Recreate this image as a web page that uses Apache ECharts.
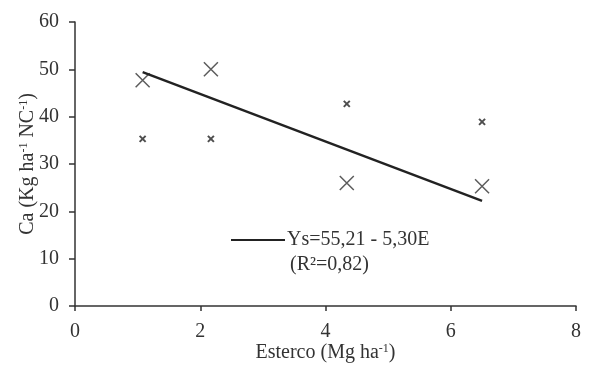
<!DOCTYPE html>
<html>
<head>
<meta charset="utf-8">
<script src="https://cdn.jsdelivr.net/npm/echarts@6/dist/echarts.min.js"></script>
<style>
html, body { margin: 0; padding: 0; background: #fff; }
#main { width: 604px; height: 365px; }
</style>
</head>
<body>
<div id="main"></div>
<script>
// dados
var bigX = [[1.08, 47.7], [2.17, 50.0], [4.34, 26.0], [6.5, 25.3]];
var smallX = [[1.08, 35.3], [2.17, 35.3], [4.34, 42.7], [6.5, 38.9]];
var trend = [[1.08, 49.4], [6.5, 22.2]];
var trendName = 'Ys=55,21 - 5,30E';
var r2Text = '(R²=0,82)';

var font = 'Liberation Serif';
var ink = '#333';
var crossPath = 'path://M0,0L10,10M10,0L0,10';

var myChart = echarts.init(document.getElementById('main'));

option = {
	animation: false,
	textStyle: { fontFamily: font },
	grid: {
		left: 75,
		right: 28,
		top: 22,
		bottom: 59,
		containLabel: false,
		outerBoundsMode: 'none'
	},
	legend: {
		left: 231,
		top: 230,
		padding: 0,
		itemWidth: 54,
		itemHeight: 2,
		itemGap: 0,
		data: [{ name: trendName, icon: 'rect' }],
		textStyle: { fontFamily: font, fontSize: 20, color: ink, padding: [0, 0, 0, -3] }
	},
	graphic: [{
		type: 'text',
		left: 290,
		top: 255,
		style: { text: r2Text, font: '20px "Liberation Serif"', fill: ink }
	}],
	xAxis: {
		type: 'value',
		min: 0,
		max: 8,
		interval: 2,
		name: 'Esterco (Mg ha{sup|-1})',
		nameLocation: 'middle',
		nameGap: 37,
		nameMoveOverlap: false,
		nameTextStyle: {
			fontFamily: font, fontSize: 20, color: ink,
			rich: { sup: { fontSize: 12, verticalAlign: 'top', lineHeight: 12, fontFamily: font, color: ink } }
		},
		axisLine: { onZero: false, lineStyle: { color: ink, width: 1.5 } },
		axisTick: { show: true, inside: false, length: 5, lineStyle: { color: ink, width: 1.5 } },
		axisLabel: { fontFamily: font, fontSize: 20, color: ink, margin: 16 },
		splitLine: { show: false }
	},
	yAxis: {
		type: 'value',
		min: 0,
		max: 60,
		interval: 10,
		name: 'Ca (Kg ha{sup|-1} NC{sup|-1})',
		nameLocation: 'middle',
		nameGap: 37,
		nameMoveOverlap: false,
		nameTextStyle: {
			fontFamily: font, fontSize: 20, color: ink,
			rich: { sup: { fontSize: 12, verticalAlign: 'top', lineHeight: 12, fontFamily: font, color: ink } }
		},
		axisLine: { show: true, lineStyle: { color: ink, width: 1.5 } },
		axisTick: { show: true, inside: false, length: 6, lineStyle: { color: ink, width: 1.5 } },
		axisLabel: { fontFamily: font, fontSize: 20, color: ink, margin: 16 },
		splitLine: { show: false }
	},
	series: [
		{
			name: trendName,
			type: 'line',
			showSymbol: false,
			color: '#222',
			lineStyle: { color: '#222', width: 2.5 },
			data: trend
		},
		{
			name: 'grande',
			type: 'scatter',
			symbol: crossPath,
			symbolSize: 14,
			itemStyle: { color: 'none', borderColor: ink, borderWidth: 1.5 },
			data: bigX
		},
		{
			name: 'pequeno',
			type: 'scatter',
			symbol: crossPath,
			symbolSize: 6,
			itemStyle: { color: 'none', borderColor: '#222', borderWidth: 2 },
			data: smallX
		}
	]
};

myChart.setOption(option);
window.addEventListener("resize",function(){
    myChart.resize();
});
</script>
</body>
</html>
